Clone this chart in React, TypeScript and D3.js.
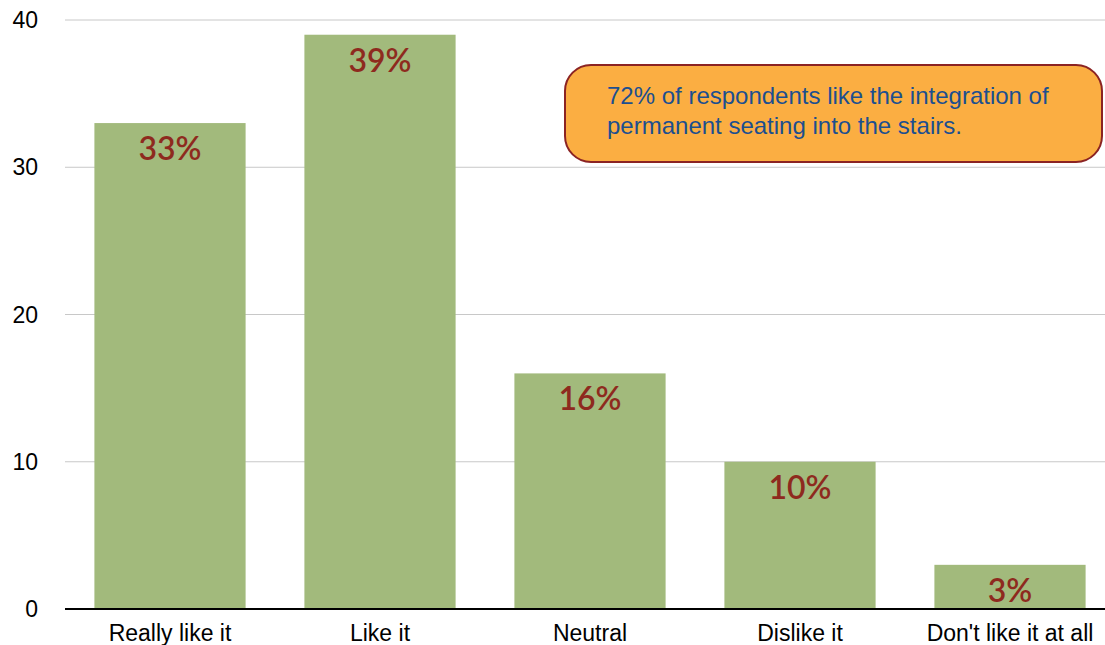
import React from "react";
import * as d3 from "d3";

const categories = ["Really like it", "Like it", "Neutral", "Dislike it", "Don't like it at all"];
const values = [33, 39, 16, 10, 3];
const valueLabels = ["33%", "39%", "16%", "10%", "3%"];
const yTicks = [0, 10, 20, 30, 40];
const noteLines = ["72% of respondents like the integration of", "permanent seating into the stairs."];

export default function App() {
  const W = 1105, H = 645;
  const x0 = 65, x1 = 1115;
  const y = d3.scaleLinear().domain([0, 40]).range([609, 20]);
  const x = d3.scaleBand<string>().domain(categories).range([x0, x1]).paddingInner(0.28).paddingOuter(0.14);
  return (
    <svg width={W} height={H} style={{ position: "absolute", left: 0, top: 0 }}>
      <rect width={W} height={H} fill="#fff" />
      {yTicks.map((t) => (
        <g key={t}>
          {t > 0 && <line x1={x0} x2={W} y1={y(t)} y2={y(t)} stroke="#c8c8c8" strokeWidth={1} />}
          <text x={38} y={y(t)} dy="0.35em" textAnchor="end" fontFamily="Liberation Sans, Arial, sans-serif" fontSize={23} fill="#000">{t}</text>
        </g>
      ))}
      {categories.map((c, i) => (
        <g key={c}>
          <rect x={x(c)} y={y(values[i])} width={x.bandwidth()} height={y(0) - y(values[i])} fill="#a2ba7c" />
          <text x={(x(c) as number) + x.bandwidth() / 2} y={y(values[i]) + 37} textAnchor="middle" fontFamily="Lato, 'Open Sans', sans-serif" fontSize={32} fontWeight={600} fill="#8e2a1e">{valueLabels[i]}</text>
          <text x={(x(c) as number) + x.bandwidth() / 2} y={641} textAnchor="middle" fontFamily="Liberation Sans, Arial, sans-serif" fontSize={23} fill="#000">{c}</text>
        </g>
      ))}
      <line x1={x0} x2={W} y1={y(0)} y2={y(0)} stroke="#000" strokeWidth={2} />
      <rect x={565} y={65} width={537} height={97} rx={26} ry={26} fill="#fbae42" stroke="#8b2323" strokeWidth={2} />
      {noteLines.map((l, i) => (
        <text key={i} x={607} y={104 + i * 30} fontFamily="Liberation Sans, Arial, sans-serif" fontSize={24} fill="#1c4f8f">{l}</text>
      ))}
    </svg>
  );
}
